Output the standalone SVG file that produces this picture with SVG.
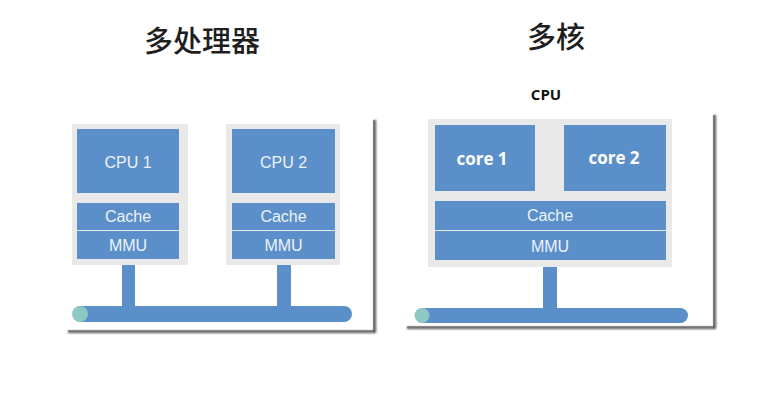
<svg xmlns="http://www.w3.org/2000/svg" width="775" height="408" viewBox="0 0 775 408">
<style>
.title{font-family:"Noto Sans CJK SC","Noto Sans CJK TC",sans-serif;font-size:29px;font-weight:500;fill:#1e1e1e;text-anchor:middle}
.blk{fill:#5b8fc9}
.bg{fill:#e9e9e9}
.lbl{font-family:"Liberation Sans",Arial,sans-serif;font-size:16px;fill:#eef2f8;text-anchor:middle}
.core{font-family:"Open Sans","Liberation Sans",sans-serif;font-weight:bold;font-size:17px;fill:#fff;text-anchor:middle}
.frame{fill:none;stroke:#444;stroke-width:2}
.bus{fill:#5b8fc9}
.dot{fill:#8ec8c4}
</style>
<defs>
<filter id="sh" x="-5%" y="-5%" width="110%" height="110%">
<feGaussianBlur stdDeviation="1.2"/>
</filter>
</defs>
<rect width="775" height="408" fill="#fff"/>
<text class="title" x="202" y="52">多处理器</text>
<text class="title" x="556" y="48">多核</text>
<text x="546" y="100" font-family="Open Sans, Liberation Sans, sans-serif" font-weight="bold" font-size="15" fill="#111" text-anchor="middle">CPU</text>

<g id="frame-left">
<polyline class="frame" points="68,332 375,332 375,120" filter="url(#sh)"/>
<polyline points="68,331 374,331 374,120" fill="none" stroke="#555" stroke-width="1.2"/>
</g>
<g id="frame-right">
<polyline class="frame" points="407,328 715,328 715,115" filter="url(#sh)"/>
<polyline points="407,327 714,327 714,115" fill="none" stroke="#555" stroke-width="1.2"/>
</g>

<g id="connectors">
<rect class="bus" x="122" y="265" width="13" height="42"/>
<rect class="bus" x="277" y="265" width="14" height="42"/>
<rect class="bus" x="543" y="266" width="14" height="43"/>
</g>

<g id="bus-left">
<rect class="bus" x="73" y="306" width="279" height="16" rx="8"/>
<circle class="dot" cx="80" cy="314" r="8"/>
</g>
<g id="bus-right">
<rect class="bus" x="415" y="308" width="273" height="15" rx="7.5"/>
<circle class="dot" cx="422" cy="315.5" r="7.5"/>
</g>

<g id="cpu1">
<rect class="bg" x="72" y="124" width="116" height="141"/>
<rect class="blk" x="77" y="129" width="102" height="64"/>
<text class="lbl" x="128" y="168">CPU 1</text>
<rect class="blk" x="77" y="203" width="102" height="27"/>
<text class="lbl" x="128" y="222">Cache</text>
<rect class="blk" x="77" y="231" width="102" height="28"/>
<text class="lbl" x="128" y="251">MMU</text>
</g>

<g id="cpu2">
<rect class="bg" x="226" y="124" width="114" height="141"/>
<rect class="blk" x="232" y="129" width="103" height="64"/>
<text class="lbl" x="283.5" y="168">CPU 2</text>
<rect class="blk" x="232" y="203" width="103" height="27"/>
<text class="lbl" x="283.5" y="222">Cache</text>
<rect class="blk" x="232" y="231" width="103" height="28"/>
<text class="lbl" x="283.5" y="251">MMU</text>
</g>

<g id="multicore-cpu">
<rect class="bg" x="428" y="119" width="244" height="148"/>
<rect class="blk" x="435" y="125" width="100" height="66"/>
<text class="core" x="482" y="165">core 1</text>
<rect class="blk" x="564" y="125" width="102" height="66"/>
<text class="core" x="614" y="164">core 2</text>
<rect class="blk" x="435" y="201" width="231" height="29"/>
<text class="lbl" x="550" y="221">Cache</text>
<rect class="blk" x="435" y="231" width="231" height="29"/>
<text class="lbl" x="550" y="252">MMU</text>
</g>
</svg>
